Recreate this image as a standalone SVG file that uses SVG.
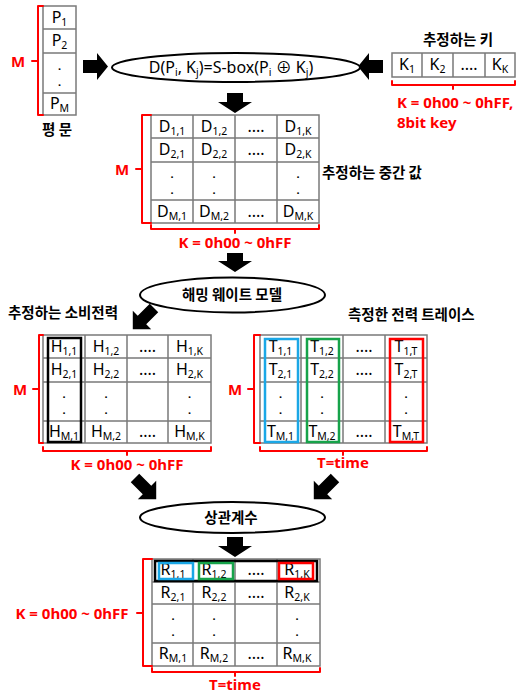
<svg xmlns="http://www.w3.org/2000/svg" width="516" height="693" viewBox="0 0 516 693">
<style>
.grid{fill:none;stroke:#7a7a7a;stroke-width:1.5}
.cell{font-family:"Noto Sans","Noto Sans CJK KR",sans-serif;font-size:16px;fill:#000;text-anchor:middle}
.sub{font-size:10.5px}
.dot{font-family:"Noto Sans",sans-serif;font-size:11px;font-weight:bold;fill:#000;text-anchor:middle}
.lbl{font-family:"Noto Sans CJK KR","Noto Sans",sans-serif;font-size:14.5px;font-weight:bold;fill:#000}
.red{font-family:"Noto Sans","Noto Sans CJK KR",sans-serif;font-size:15px;font-weight:bold;fill:#ff0000}
.brace{fill:none;stroke:#ff0000;stroke-width:2;stroke-linejoin:round;stroke-linecap:round}
.ell{fill:#fff;stroke:#000;stroke-width:2}
.arr{fill:#000}
.hk{fill:none;stroke:#000;stroke-width:2.5}
.hb{fill:none;stroke:#1aa7e6;stroke-width:2.5}
.hg{fill:none;stroke:#16a34a;stroke-width:2.5}
.hr{fill:none;stroke:#ff0000;stroke-width:2.5}
</style>
<defs>
<path id="da" d="M0,-6 L17,-6 L17,-13 L30,0 L17,13 L17,6 L0,6 Z"/>
</defs>

<g id="connectors">
<polygon class="arr" points="83,60 97,60 97,53 108,66.5 97,80 97,73 83,73"/>
<polygon class="arr" points="383,60 369,60 369,53 358,66.5 369,80 369,73 383,73"/>
<polygon class="arr" points="227,93 243,93 243,102 252,102 235,113 218,102 227,102"/>
<polygon class="arr" points="227,253 243,253 243,261 252,261 235,272 218,261 227,261"/>
<polygon class="arr" points="227,537 243,537 243,546 252,546 235,557 218,546 227,546"/>
<use href="#da" class="arr" transform="translate(154,308) rotate(135)"/>
<use href="#da" class="arr" transform="translate(135,478) rotate(45)"/>
<use href="#da" class="arr" transform="translate(335,478) rotate(135)"/>
</g>

<g id="plaintext">
<rect class="grid" x="43" y="6" width="33" height="109"/>
<path class="grid" d="M43,29H76M43,53H76M43,93H76"/>
<text class="cell" x="59.5" y="23">P<tspan class="sub" dy="3">1</tspan></text>
<text class="cell" x="59.5" y="46">P<tspan class="sub" dy="3">2</tspan></text>
<text class="dot" x="59.5" y="70">.</text>
<text class="dot" x="59.5" y="86">.</text>
<text class="cell" x="59.5" y="109">P<tspan class="sub" dy="3">M</tspan></text>
<path class="brace" d="M43,6H38V115H43M38,61H32"/>
<text class="red" x="18" y="67" text-anchor="middle" font-size="17">M</text>
<text class="lbl" x="57" y="135" text-anchor="middle">평 문</text>
</g>

<g id="sbox">
<ellipse class="ell" cx="236" cy="67.5" rx="124" ry="14.5"/>
<text class="cell" x="231" y="73">D(P<tspan class="sub" dy="3">i</tspan><tspan dy="-3">, K</tspan><tspan class="sub" dy="3">j</tspan><tspan dy="-3">)=S-box(P</tspan><tspan class="sub" dy="3">i</tspan><tspan dy="-3"> ⊕ K</tspan><tspan class="sub" dy="3">j</tspan><tspan dy="-3">)</tspan></text>
</g>

<g id="key">
<text class="lbl" x="458" y="45" text-anchor="middle">추정하는 키</text>
<rect class="grid" x="392" y="53" width="123" height="24"/>
<path class="grid" d="M422,53V77M453,53V77M485,53V77"/>
<text class="cell" x="407" y="70">K<tspan class="sub" dy="3">1</tspan></text>
<text class="cell" x="437.5" y="70">K<tspan class="sub" dy="3">2</tspan></text>
<text class="cell" x="469" y="70">....</text>
<text class="cell" x="500" y="70">K<tspan class="sub" dy="3">K</tspan></text>
<path class="brace" d="M392,81V85H515V81M453,85V89"/>
<text class="red" x="397" y="108" font-size="14.5">K = 0h00 ~ 0hFF,</text>
<text class="red" x="397" y="128" font-size="14.5">8bit key</text>
</g>

<g id="dmatrix">
<rect class="grid" x="151" y="115" width="168" height="108"/>
<path class="grid" d="M193,115V223M235,115V223M277,115V223M151,138H319M151,162H319M151,200H319"/>
<text class="cell" x="172" y="132">D<tspan class="sub" dy="3">1,1</tspan></text>
<text class="cell" x="214" y="132">D<tspan class="sub" dy="3">1,2</tspan></text>
<text class="cell" x="256" y="132">....</text>
<text class="cell" x="298" y="132">D<tspan class="sub" dy="3">1,K</tspan></text>
<text class="cell" x="172" y="155">D<tspan class="sub" dy="3">2,1</tspan></text>
<text class="cell" x="214" y="155">D<tspan class="sub" dy="3">2,2</tspan></text>
<text class="cell" x="256" y="155">....</text>
<text class="cell" x="298" y="155">D<tspan class="sub" dy="3">2,K</tspan></text>
<text class="dot" x="172" y="178">.</text><text class="dot" x="172" y="194">.</text>
<text class="dot" x="214" y="178">.</text><text class="dot" x="214" y="194">.</text>
<text class="dot" x="298" y="178">.</text><text class="dot" x="298" y="194">.</text>
<text class="cell" x="172" y="217">D<tspan class="sub" dy="3">M,1</tspan></text>
<text class="cell" x="214" y="217">D<tspan class="sub" dy="3">M,2</tspan></text>
<text class="cell" x="256" y="217">....</text>
<text class="cell" x="298" y="217">D<tspan class="sub" dy="3">M,K</tspan></text>
<path class="brace" d="M151,115H142V223H151M142,169H136"/>
<text class="red" x="122" y="175" text-anchor="middle" font-size="17">M</text>
<path class="brace" d="M151,225V229H319V225M235,229V233"/>
<text class="red" x="235" y="248" text-anchor="middle">K = 0h00 ~ 0hFF</text>
<text class="lbl" x="322" y="178">추정하는 중간 값</text>
</g>

<g id="hamming">
<ellipse class="ell" cx="232.5" cy="295" rx="92.5" ry="17.5"/>
<text class="lbl" x="232" y="300" text-anchor="middle">해밍 웨이트 모델</text>
</g>

<g id="hmatrix">
<text class="lbl" x="8" y="318">추정하는 소비전력</text>
<rect class="grid" x="43" y="335" width="168" height="108"/>
<path class="grid" d="M85,335V443M127,335V443M168,335V443M43,358H211M43,382H211M43,421H211"/>
<text class="cell" x="64" y="352">H<tspan class="sub" dy="3">1,1</tspan></text>
<text class="cell" x="106" y="352">H<tspan class="sub" dy="3">1,2</tspan></text>
<text class="cell" x="147.5" y="352">....</text>
<text class="cell" x="189.5" y="352">H<tspan class="sub" dy="3">1,K</tspan></text>
<text class="cell" x="64" y="375">H<tspan class="sub" dy="3">2,1</tspan></text>
<text class="cell" x="106" y="375">H<tspan class="sub" dy="3">2,2</tspan></text>
<text class="cell" x="147.5" y="375">....</text>
<text class="cell" x="189.5" y="375">H<tspan class="sub" dy="3">2,K</tspan></text>
<text class="dot" x="64" y="398">.</text><text class="dot" x="64" y="414">.</text>
<text class="dot" x="106" y="398">.</text><text class="dot" x="106" y="414">.</text>
<text class="dot" x="189.5" y="398">.</text><text class="dot" x="189.5" y="414">.</text>
<text class="cell" x="64" y="437">H<tspan class="sub" dy="3">M,1</tspan></text>
<text class="cell" x="106" y="437">H<tspan class="sub" dy="3">M,2</tspan></text>
<text class="cell" x="147.5" y="437">....</text>
<text class="cell" x="189.5" y="437">H<tspan class="sub" dy="3">M,K</tspan></text>
<rect class="hk" x="48" y="338" width="33" height="104"/>
<path class="brace" d="M43,335H39V443H43M39,389H33"/>
<text class="red" x="20" y="395" text-anchor="middle" font-size="17">M</text>
<path class="brace" d="M43,447V451H211V447M127,451V455"/>
<text class="red" x="127" y="470" text-anchor="middle">K = 0h00 ~ 0hFF</text>
</g>

<g id="tmatrix">
<text class="lbl" x="348" y="320">측정한 전력 트레이스</text>
<rect class="grid" x="260" y="335" width="167" height="108"/>
<path class="grid" d="M301,335V443M343,335V443M385,335V443M260,358H427M260,382H427M260,421H427"/>
<text class="cell" x="280.5" y="352">T<tspan class="sub" dy="3">1,1</tspan></text>
<text class="cell" x="322" y="352">T<tspan class="sub" dy="3">1,2</tspan></text>
<text class="cell" x="364" y="352">....</text>
<text class="cell" x="406" y="352">T<tspan class="sub" dy="3">1,T</tspan></text>
<text class="cell" x="280.5" y="375">T<tspan class="sub" dy="3">2,1</tspan></text>
<text class="cell" x="322" y="375">T<tspan class="sub" dy="3">2,2</tspan></text>
<text class="cell" x="364" y="375">....</text>
<text class="cell" x="406" y="375">T<tspan class="sub" dy="3">2,T</tspan></text>
<text class="dot" x="280.5" y="398">.</text><text class="dot" x="280.5" y="414">.</text>
<text class="dot" x="322" y="398">.</text><text class="dot" x="322" y="414">.</text>
<text class="dot" x="406" y="398">.</text><text class="dot" x="406" y="414">.</text>
<text class="cell" x="280.5" y="437">T<tspan class="sub" dy="3">M,1</tspan></text>
<text class="cell" x="322" y="437">T<tspan class="sub" dy="3">M,2</tspan></text>
<text class="cell" x="364" y="437">....</text>
<text class="cell" x="406" y="437">T<tspan class="sub" dy="3">M,T</tspan></text>
<rect class="hb" x="265" y="339" width="33" height="103"/>
<rect class="hg" x="307" y="339" width="32" height="103"/>
<rect class="hr" x="390" y="339" width="33" height="103"/>
<path class="brace" d="M260,335H254V443H260M254,389H248"/>
<text class="red" x="235" y="395" text-anchor="middle" font-size="17">M</text>
<path class="brace" d="M260,447V451H427V447M343,451V455"/>
<text class="red" x="343" y="468" text-anchor="middle">T=time</text>
</g>

<g id="correlation">
<ellipse class="ell" cx="232.5" cy="517.5" rx="92.5" ry="15.5"/>
<text class="lbl" x="231" y="523" text-anchor="middle">상관계수</text>
</g>

<g id="rmatrix">
<rect class="grid" x="152" y="559" width="168" height="107"/>
<path class="grid" d="M193,559V666M235,559V666M277,559V666M152,582H320M152,604H320M152,643H320"/>
<text class="cell" x="173" y="575">R<tspan class="sub" dy="3">1,1</tspan></text>
<text class="cell" x="214" y="575">R<tspan class="sub" dy="3">1,2</tspan></text>
<text class="cell" x="256" y="575">....</text>
<text class="cell" x="297" y="575">R<tspan class="sub" dy="3">1,K</tspan></text>
<text class="cell" x="173" y="598">R<tspan class="sub" dy="3">2,1</tspan></text>
<text class="cell" x="214" y="598">R<tspan class="sub" dy="3">2,2</tspan></text>
<text class="cell" x="256" y="598">....</text>
<text class="cell" x="297" y="598">R<tspan class="sub" dy="3">2,K</tspan></text>
<text class="dot" x="173" y="620">.</text><text class="dot" x="173" y="636">.</text>
<text class="dot" x="214" y="620">.</text><text class="dot" x="214" y="636">.</text>
<text class="dot" x="297" y="620">.</text><text class="dot" x="297" y="636">.</text>
<text class="cell" x="173" y="659">R<tspan class="sub" dy="3">M,1</tspan></text>
<text class="cell" x="214" y="659">R<tspan class="sub" dy="3">M,2</tspan></text>
<text class="cell" x="256" y="659">....</text>
<text class="cell" x="297" y="659">R<tspan class="sub" dy="3">M,K</tspan></text>
<rect class="hk" x="155" y="561" width="162" height="20"/>
<rect class="hb" x="159" y="563" width="34" height="16"/>
<rect class="hg" x="199" y="563" width="34" height="16"/>
<rect class="hr" x="279" y="563" width="34" height="16"/>
<path class="brace" d="M152,559H143V666H152M143,613H137"/>
<text class="red" x="72" y="619" text-anchor="middle">K = 0h00 ~ 0hFF</text>
<path class="brace" d="M152,668V672H320V668M235,672V676"/>
<text class="red" x="235" y="690" text-anchor="middle">T=time</text>
</g>
</svg>
